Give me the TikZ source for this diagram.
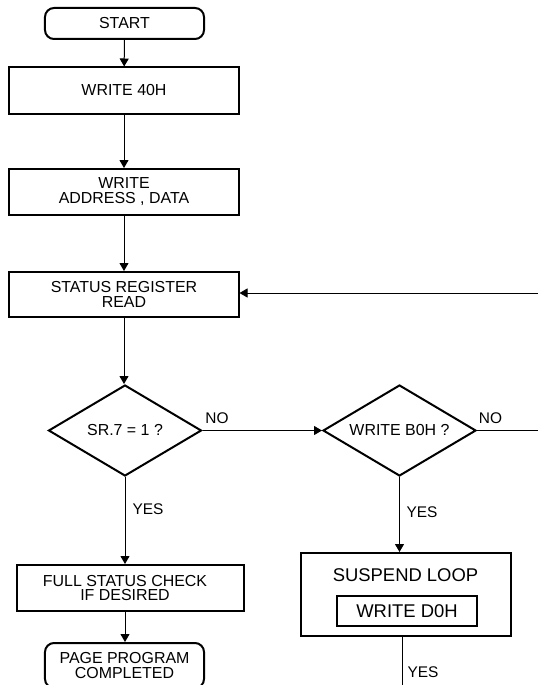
\documentclass[tikz,border=0pt]{standalone}
\usepackage{fontspec}
\setmainfont{Liberation Sans}
\usetikzlibrary{shapes.geometric,arrows.meta}
\begin{document}
\begin{tikzpicture}[x=1bp,y=-1bp,
  every node/.style={font=\fontsize{16}{15}\selectfont, align=center, inner sep=0pt},
  box/.style={draw, line width=2bp, minimum width=229bp, minimum height=46bp},
  term/.style={draw, line width=2bp, rounded corners=9bp, minimum width=159bp, minimum height=31bp},
  dec/.style={draw, diamond, line width=2bp, minimum width=153bp, minimum height=91bp, aspect=1.68},
  conn/.style={line width=1bp},
  arr/.style={conn, -{Triangle[length=8bp,width=9bp]}},
  lbl/.style={font=\fontsize{15.5}{15}\selectfont},
  big/.style={font=\fontsize{18.5}{18}\selectfont}
]
\useasboundingbox (0,0) rectangle (538,685);
\node[term] (start) at (124.5,23.5) {START};
\node[box] (w40) at (124,90.5) {WRITE 40H};
\node[box] (wad) at (124,192) {WRITE\\ADDRESS , DATA};
\node[box, minimum height=45bp] (srr) at (124,294.5) {STATUS REGISTER\\READ};
\node[dec] (d1) at (125,430.5) {SR.7 = 1 ?};
\node[dec] (d2) at (399.5,430.5) {WRITE B0H ?};
\node[box, minimum width=227bp] (full) at (130.5,588) {};
\node (fulltxt) at (125,588) {FULL STATUS CHECK\\IF DESIRED};
\node[term, minimum height=45bp, font=\fontsize{16}{16}\selectfont] (done) at (124.5,665.5) {PAGE PROGRAM\\COMPLETED};
\node[box, minimum width=210bp, minimum height=83bp] (susp) at (406,594.5) {};
\node[big] (susptxt) at (405.5,575) {SUSPEND LOOP};
\node[box, big, line width=1.6bp, minimum width=140bp, minimum height=30bp] (wd0) at (407,611) {WRITE D0H};
\coordinate (fbr) at (538,293);
\coordinate (no2end) at (538,430.5);
\coordinate (bot) at (402,685);
\node[lbl] (no1) at (217,418) {NO};
\node[lbl] (no2) at (490.5,418) {NO};
\node[lbl] (yes1) at (148,509) {YES};
\node[lbl] (yes2) at (422,512) {YES};
\node[lbl] (yes3) at (423,672.5) {YES};
\draw[arr] (start) -- (w40);
\draw[arr] (w40) -- (wad);
\draw[arr] (wad) -- (srr);
\draw[arr] (srr.south) -- (srr.south |- d1.north);
\draw[arr] (fbr) -- (fbr -| srr.east);
\draw[arr] (d1.east) -- (d2.west);
\draw[conn] (d2.east) -- (no2end);
\draw[arr] (d1.south) -- (d1.south |- full.north);
\draw[arr] (fulltxt |- full.south) -- (fulltxt |- done.north);
\draw[arr] (d2.south) -- (d2.south |- susp.north);
\draw[conn] (bot |- susp.south) -- (bot);
\end{tikzpicture}
\end{document}
